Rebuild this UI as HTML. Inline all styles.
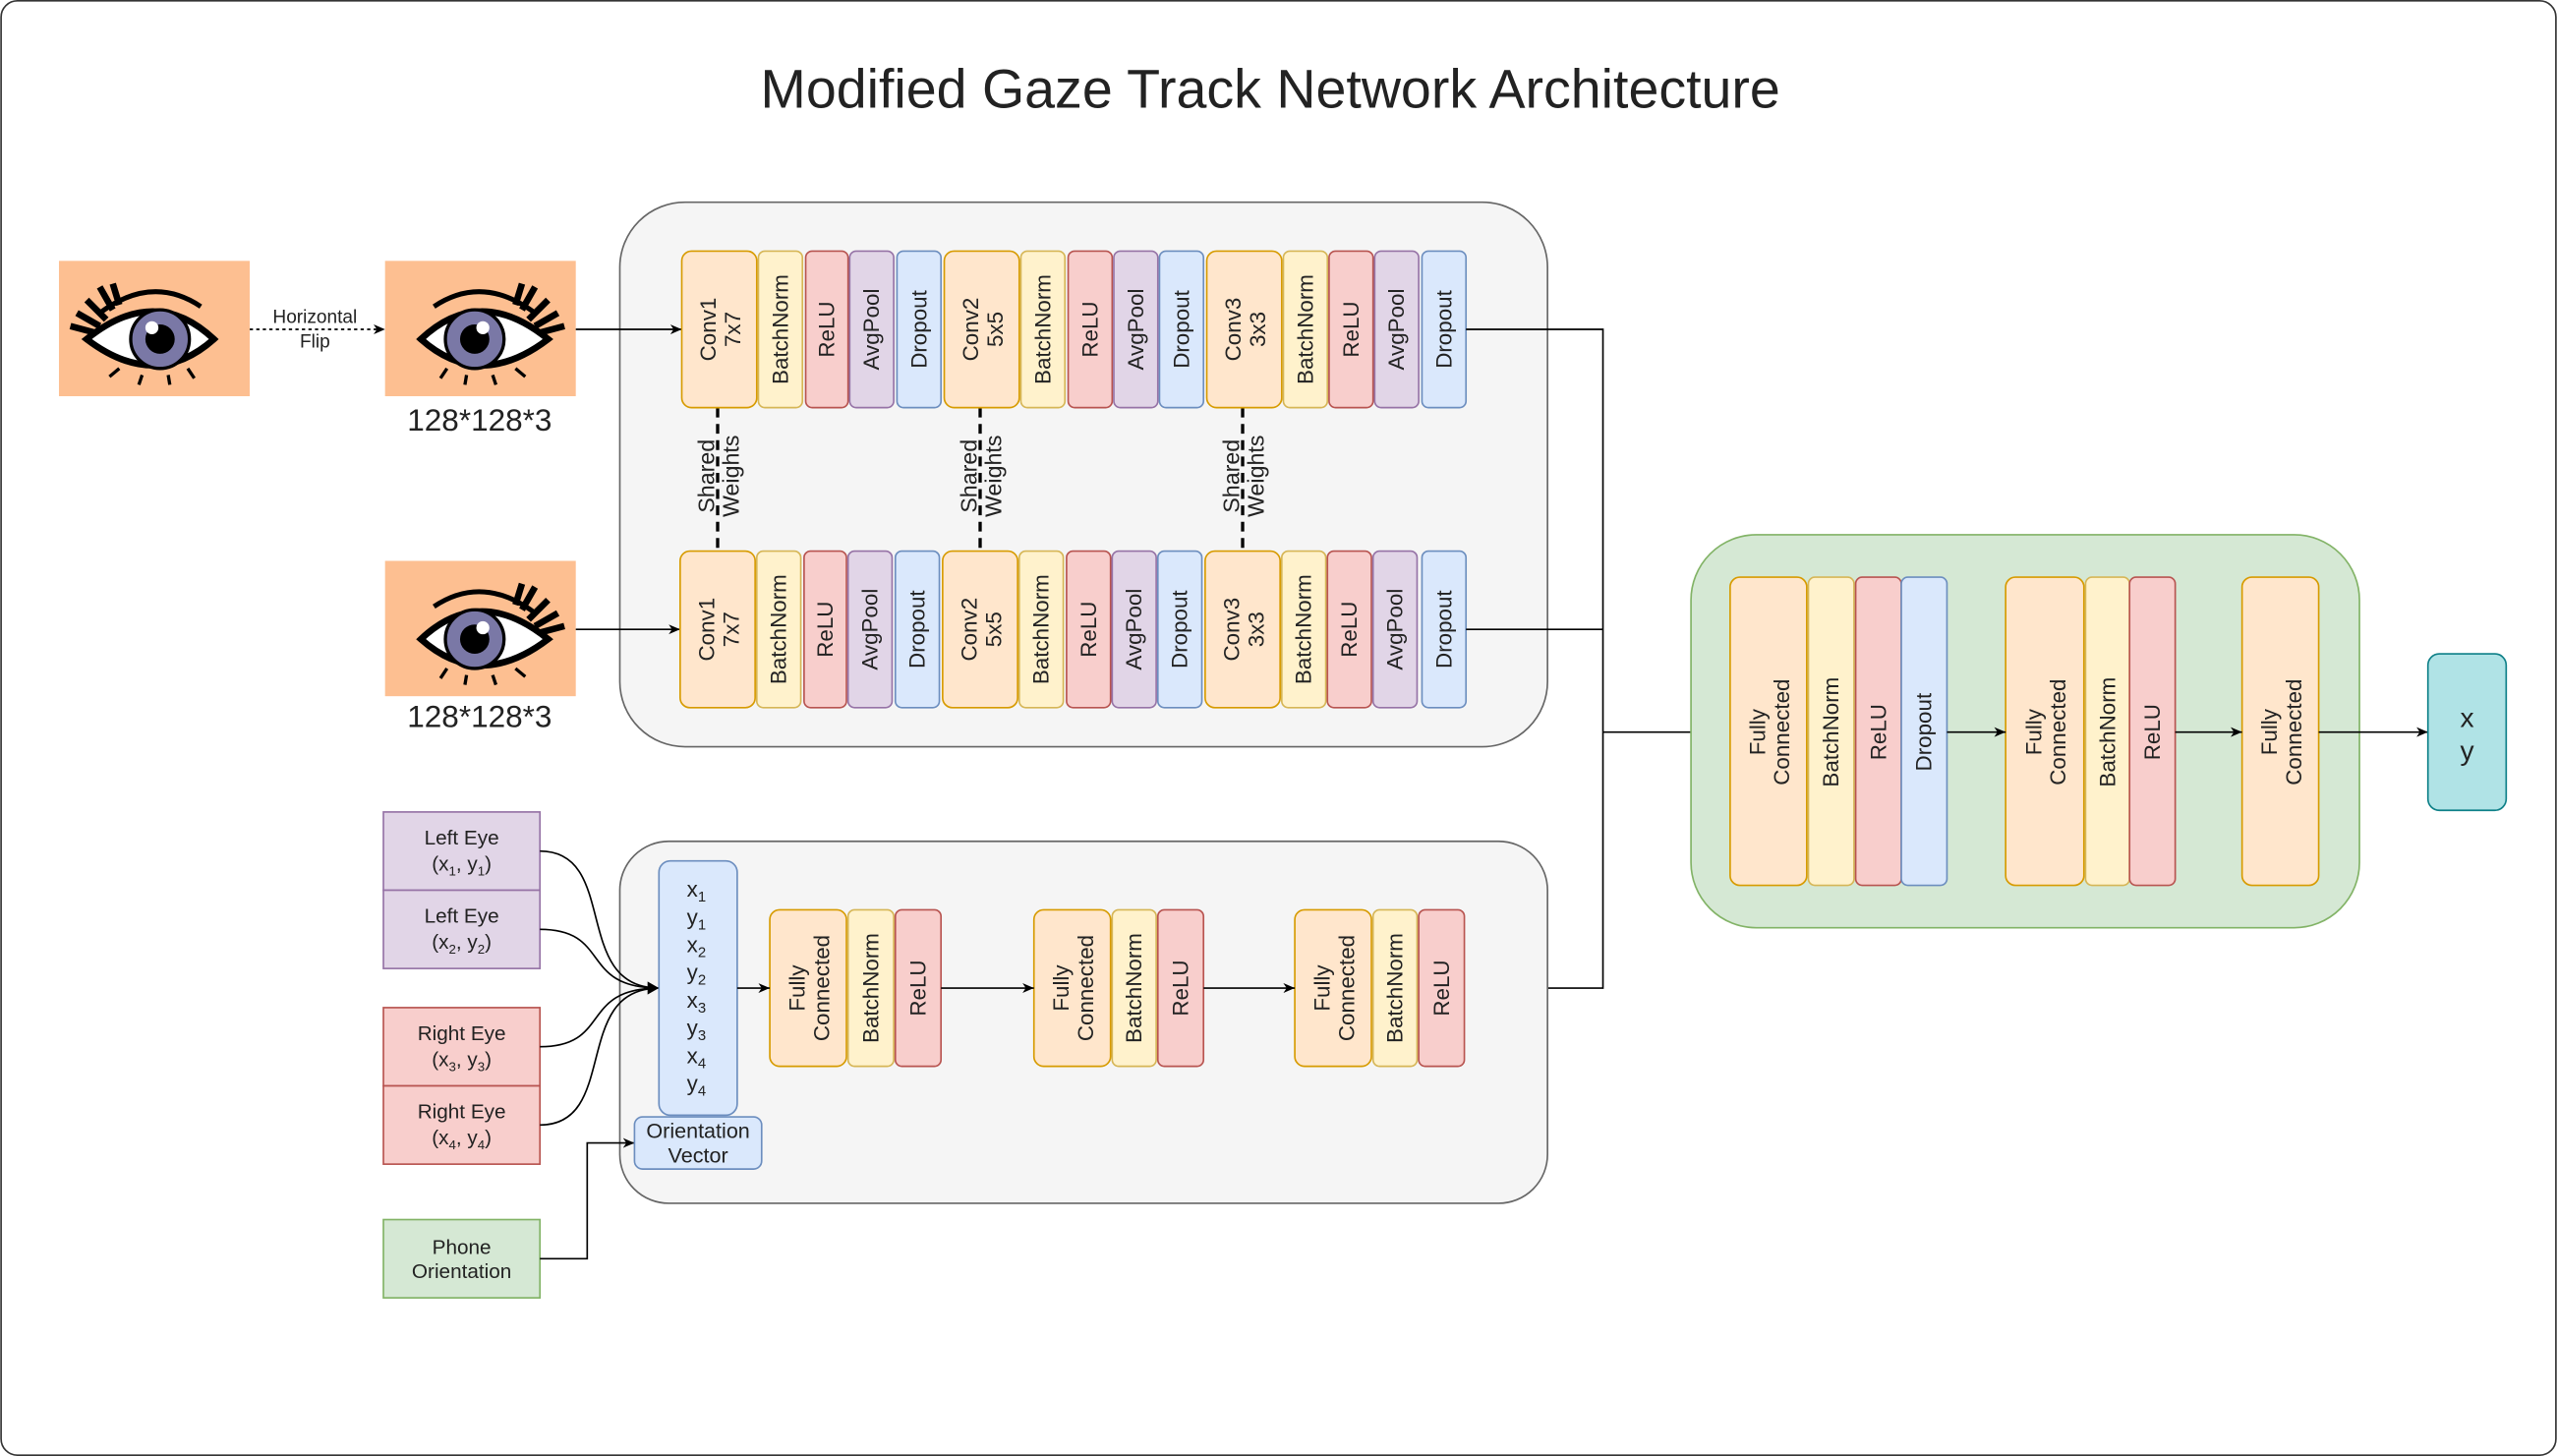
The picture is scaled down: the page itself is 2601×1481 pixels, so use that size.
<!DOCTYPE html>
<html><head><meta charset="utf-8"><style>
html,body{margin:0;padding:0;background:#fff;}
svg{display:block;}
text{font-family:"Liberation Sans",sans-serif;fill:#222;}
.o{fill:#ffe6cc;stroke:#d79b00;}
.b{fill:#fff2cc;stroke:#d6b656;}
.r{fill:#f8cecc;stroke:#b85450;}
.p{fill:#e1d5e7;stroke:#9673a6;}
.d{fill:#dae8fc;stroke:#6c8ebf;}
.g{fill:#d5e8d4;stroke:#82b366;}
.bt{font-size:13.5px;}
.ln{stroke:#000;fill:none;stroke-width:1;}
</style></head><body>
<svg width="2601" height="1481" viewBox="0 0 1568 893" xmlns="http://www.w3.org/2000/svg">
<defs>
<marker id="ar" markerWidth="8" markerHeight="8" refX="7" refY="4" orient="auto" markerUnits="userSpaceOnUse"><path d="M0,1 L7,4 L0,7 L2,4 z" fill="#000"/></marker>
<g id="eye">
<rect x="0" y="0" width="117" height="83" fill="#fdbf91"/>
<path d="M22,48 Q58,14 100,48 Q58,80 22,48 z" fill="#fff" stroke="#000" stroke-width="4"/>
<circle cx="55" cy="48" r="18" fill="#7a78a6" stroke="#000" stroke-width="2"/>
<circle cx="55" cy="48" r="9" fill="#000"/>
<circle cx="60" cy="41" r="4" fill="#fff"/>
<path d="M30,28 Q60,8 92,32" stroke="#000" stroke-width="3" fill="none"/>
<path d="M88,36 L100,24 M92,40 L106,32 M95,44 L110,40 M84,30 L92,16 M80,27 L84,14" stroke="#000" stroke-width="4"/>
<path d="M38,66 L34,72 M50,70 L49,76 M66,70 L68,76 M80,66 L86,71" stroke="#000" stroke-width="2"/>
</g>
</defs>
<rect x="0.5" y="0.5" width="1567" height="892" rx="10" fill="#fff" stroke="#333"/>
<text x="779" y="66" font-size="33.5" text-anchor="middle" fill="#000">Modified Gaze Track Network Architecture</text>

<use href="#eye" transform="translate(153,160) scale(-1,1)"/>
<use href="#eye" x="236" y="160"/>
<use href="#eye" x="236" y="344"/>
<text x="294" y="264" font-size="19" text-anchor="middle">128*128*3</text>
<text x="294" y="446" font-size="19" text-anchor="middle">128*128*3</text>
<line x1="153" y1="202" x2="236" y2="202" class="ln" stroke-dasharray="2,2" marker-end="url(#ar)"/>
<text x="193" y="198" font-size="11.5" text-anchor="middle">Horizontal</text>
<text x="193" y="213" font-size="11.5" text-anchor="middle">Flip</text>

<rect x="380" y="124" width="569" height="334" rx="40" fill="#f5f5f5" stroke="#666"/>
<line x1="353" y1="202" x2="418" y2="202" class="ln" marker-end="url(#ar)"/>
<line x1="353" y1="386" x2="417" y2="386" class="ln" marker-end="url(#ar)"/>

<g stroke="#000" stroke-width="2" stroke-dasharray="6,4">
<line x1="440" y1="250" x2="440" y2="338"/>
<line x1="601" y1="250" x2="601" y2="338"/>
<line x1="762" y1="250" x2="762" y2="338"/>
</g>
<g font-size="14" text-anchor="middle">
<text transform="translate(441,292) rotate(-90)"><tspan x="0" dy="-3">Shared</tspan><tspan x="0" dy="15">Weights</tspan></text>
<text transform="translate(602,292) rotate(-90)"><tspan x="0" dy="-3">Shared</tspan><tspan x="0" dy="15">Weights</tspan></text>
<text transform="translate(763,292) rotate(-90)"><tspan x="0" dy="-3">Shared</tspan><tspan x="0" dy="15">Weights</tspan></text>
</g>

<g>
<rect class="o" x="418" y="154" width="46" height="96" rx="6"/>
<rect class="b" x="465" y="154" width="27" height="96" rx="4"/>
<rect class="r" x="494" y="154" width="26" height="96" rx="4"/>
<rect class="p" x="521" y="154" width="27" height="96" rx="4"/>
<rect class="d" x="550" y="154" width="27" height="96" rx="4"/>
<rect class="o" x="579" y="154" width="46" height="96" rx="6"/>
<rect class="b" x="626" y="154" width="27" height="96" rx="4"/>
<rect class="r" x="655" y="154" width="27" height="96" rx="4"/>
<rect class="p" x="683" y="154" width="27" height="96" rx="4"/>
<rect class="d" x="711" y="154" width="27" height="96" rx="4"/>
<rect class="o" x="740" y="154" width="46" height="96" rx="6"/>
<rect class="b" x="787" y="154" width="27" height="96" rx="4"/>
<rect class="r" x="815" y="154" width="27" height="96" rx="4"/>
<rect class="p" x="843" y="154" width="27" height="96" rx="4"/>
<rect class="d" x="872" y="154" width="27" height="96" rx="4"/>
</g>
<g class="bt" text-anchor="middle" dominant-baseline="central">
<text transform="translate(441,202) rotate(-90)"><tspan x="0" dy="-7">Conv1</tspan><tspan x="0" dy="15">7x7</tspan></text>
<text transform="translate(478.5,202) rotate(-90)">BatchNorm</text>
<text transform="translate(507,202) rotate(-90)">ReLU</text>
<text transform="translate(534.5,202) rotate(-90)">AvgPool</text>
<text transform="translate(563.5,202) rotate(-90)">Dropout</text>
<text transform="translate(602,202) rotate(-90)"><tspan x="0" dy="-7">Conv2</tspan><tspan x="0" dy="15">5x5</tspan></text>
<text transform="translate(639.5,202) rotate(-90)">BatchNorm</text>
<text transform="translate(668.5,202) rotate(-90)">ReLU</text>
<text transform="translate(696.5,202) rotate(-90)">AvgPool</text>
<text transform="translate(724.5,202) rotate(-90)">Dropout</text>
<text transform="translate(763,202) rotate(-90)"><tspan x="0" dy="-7">Conv3</tspan><tspan x="0" dy="15">3x3</tspan></text>
<text transform="translate(800.5,202) rotate(-90)">BatchNorm</text>
<text transform="translate(828.5,202) rotate(-90)">ReLU</text>
<text transform="translate(856.5,202) rotate(-90)">AvgPool</text>
<text transform="translate(885.5,202) rotate(-90)">Dropout</text>
</g>

<g>
<rect class="o" x="417" y="338" width="46" height="96" rx="6"/>
<rect class="b" x="464" y="338" width="27" height="96" rx="4"/>
<rect class="r" x="493" y="338" width="26" height="96" rx="4"/>
<rect class="p" x="520" y="338" width="27" height="96" rx="4"/>
<rect class="d" x="549" y="338" width="27" height="96" rx="4"/>
<rect class="o" x="578" y="338" width="46" height="96" rx="6"/>
<rect class="b" x="625" y="338" width="27" height="96" rx="4"/>
<rect class="r" x="654" y="338" width="27" height="96" rx="4"/>
<rect class="p" x="682" y="338" width="27" height="96" rx="4"/>
<rect class="d" x="710" y="338" width="27" height="96" rx="4"/>
<rect class="o" x="739" y="338" width="46" height="96" rx="6"/>
<rect class="b" x="786" y="338" width="27" height="96" rx="4"/>
<rect class="r" x="814" y="338" width="27" height="96" rx="4"/>
<rect class="p" x="842" y="338" width="27" height="96" rx="4"/>
<rect class="d" x="872" y="338" width="27" height="96" rx="4"/>
</g>
<g class="bt" text-anchor="middle" dominant-baseline="central">
<text transform="translate(440,386) rotate(-90)"><tspan x="0" dy="-7">Conv1</tspan><tspan x="0" dy="15">7x7</tspan></text>
<text transform="translate(477.5,386) rotate(-90)">BatchNorm</text>
<text transform="translate(506,386) rotate(-90)">ReLU</text>
<text transform="translate(533.5,386) rotate(-90)">AvgPool</text>
<text transform="translate(562.5,386) rotate(-90)">Dropout</text>
<text transform="translate(601,386) rotate(-90)"><tspan x="0" dy="-7">Conv2</tspan><tspan x="0" dy="15">5x5</tspan></text>
<text transform="translate(638.5,386) rotate(-90)">BatchNorm</text>
<text transform="translate(667.5,386) rotate(-90)">ReLU</text>
<text transform="translate(695.5,386) rotate(-90)">AvgPool</text>
<text transform="translate(723.5,386) rotate(-90)">Dropout</text>
<text transform="translate(762,386) rotate(-90)"><tspan x="0" dy="-7">Conv3</tspan><tspan x="0" dy="15">3x3</tspan></text>
<text transform="translate(799.5,386) rotate(-90)">BatchNorm</text>
<text transform="translate(827.5,386) rotate(-90)">ReLU</text>
<text transform="translate(855.5,386) rotate(-90)">AvgPool</text>
<text transform="translate(885.5,386) rotate(-90)">Dropout</text>
</g>

<polyline class="ln" points="899,202 983,202 983,449"/>
<polyline class="ln" points="899,386 983,386"/>
<polyline class="ln" points="949,606 983,606 983,449"/>
<line x1="983" y1="449" x2="1061" y2="449" class="ln" marker-end="url(#ar)"/>

<rect x="380" y="516" width="569" height="222" rx="30" fill="#f5f5f5" stroke="#666"/>

<rect class="p" x="235" y="498" width="96" height="48"/>
<rect class="p" x="235" y="546" width="96" height="48"/>
<rect class="r" x="235" y="618" width="96" height="48"/>
<rect class="r" x="235" y="666" width="96" height="48"/>
<rect class="g" x="235" y="748" width="96" height="48"/>
<g font-size="12.5" text-anchor="middle">
<text x="283" y="518">Left Eye</text>
<text x="283" y="534">(x<tspan font-size="8" dy="3">1</tspan><tspan dy="-3">, y</tspan><tspan font-size="8" dy="3">1</tspan><tspan dy="-3">)</tspan></text>
<text x="283" y="566">Left Eye</text>
<text x="283" y="582">(x<tspan font-size="8" dy="3">2</tspan><tspan dy="-3">, y</tspan><tspan font-size="8" dy="3">2</tspan><tspan dy="-3">)</tspan></text>
<text x="283" y="638">Right Eye</text>
<text x="283" y="654">(x<tspan font-size="8" dy="3">3</tspan><tspan dy="-3">, y</tspan><tspan font-size="8" dy="3">3</tspan><tspan dy="-3">)</tspan></text>
<text x="283" y="686">Right Eye</text>
<text x="283" y="702">(x<tspan font-size="8" dy="3">4</tspan><tspan dy="-3">, y</tspan><tspan font-size="8" dy="3">4</tspan><tspan dy="-3">)</tspan></text>
<text x="283" y="769">Phone</text>
<text x="283" y="784">Orientation</text>
</g>
<g class="ln">
<path d="M331,522 C380,522 350,606 404,606"/>
<path d="M331,570 C375,570 355,606 404,606"/>
<path d="M331,642 C375,642 355,606 404,606"/>
<path d="M331,690 C380,690 350,606 404,606"/>
<polyline points="331,772 360,772 360,701 389,701" marker-end="url(#ar)"/>
</g>
<path d="M397,602 L404,606 L397,610 z" fill="#000"/>

<rect class="d" x="404" y="528" width="48" height="156" rx="7"/>
<g font-size="13.5" text-anchor="middle">
<text x="427" y="550">x<tspan font-size="9" dy="3">1</tspan></text>
<text x="427" y="567">y<tspan font-size="9" dy="3">1</tspan></text>
<text x="427" y="584">x<tspan font-size="9" dy="3">2</tspan></text>
<text x="427" y="601">y<tspan font-size="9" dy="3">2</tspan></text>
<text x="427" y="618">x<tspan font-size="9" dy="3">3</tspan></text>
<text x="427" y="635">y<tspan font-size="9" dy="3">3</tspan></text>
<text x="427" y="652">x<tspan font-size="9" dy="3">4</tspan></text>
<text x="427" y="669">y<tspan font-size="9" dy="3">4</tspan></text>
</g>
<rect class="d" x="389" y="685" width="78" height="32" rx="5"/>
<text x="428" y="698" font-size="13" text-anchor="middle">Orientation</text>
<text x="428" y="713" font-size="13" text-anchor="middle">Vector</text>

<g>
<rect class="o" x="472" y="558" width="47" height="96" rx="6"/>
<rect class="b" x="520" y="558" width="28" height="96" rx="4"/>
<rect class="r" x="549" y="558" width="28" height="96" rx="4"/>
<rect class="o" x="634" y="558" width="47" height="96" rx="6"/>
<rect class="b" x="682" y="558" width="27" height="96" rx="4"/>
<rect class="r" x="710" y="558" width="28" height="96" rx="4"/>
<rect class="o" x="794" y="558" width="47" height="96" rx="6"/>
<rect class="b" x="842" y="558" width="27" height="96" rx="4"/>
<rect class="r" x="870" y="558" width="28" height="96" rx="4"/>
</g>
<g class="bt" text-anchor="middle" dominant-baseline="central">
<text transform="translate(495.5,606) rotate(-90)"><tspan x="0" dy="-7">Fully</tspan><tspan x="0" dy="15">Connected</tspan></text>
<text transform="translate(534,606) rotate(-90)">BatchNorm</text>
<text transform="translate(563,606) rotate(-90)">ReLU</text>
<text transform="translate(657.5,606) rotate(-90)"><tspan x="0" dy="-7">Fully</tspan><tspan x="0" dy="15">Connected</tspan></text>
<text transform="translate(695.5,606) rotate(-90)">BatchNorm</text>
<text transform="translate(724,606) rotate(-90)">ReLU</text>
<text transform="translate(817.5,606) rotate(-90)"><tspan x="0" dy="-7">Fully</tspan><tspan x="0" dy="15">Connected</tspan></text>
<text transform="translate(855.5,606) rotate(-90)">BatchNorm</text>
<text transform="translate(884,606) rotate(-90)">ReLU</text>
</g>
<line x1="452" y1="606" x2="472" y2="606" class="ln" marker-end="url(#ar)"/>
<line x1="577" y1="606" x2="634" y2="606" class="ln" marker-end="url(#ar)"/>
<line x1="738" y1="606" x2="794" y2="606" class="ln" marker-end="url(#ar)"/>

<rect x="1037" y="328" width="410" height="241" rx="40" fill="#d5e8d4" stroke="#82b366"/>
<g>
<rect class="o" x="1061" y="354" width="47" height="189" rx="6"/>
<rect class="b" x="1109" y="354" width="28" height="189" rx="4"/>
<rect class="r" x="1138" y="354" width="28" height="189" rx="4"/>
<rect class="d" x="1166" y="354" width="28" height="189" rx="4"/>
<rect class="o" x="1230" y="354" width="48" height="189" rx="6"/>
<rect class="b" x="1279" y="354" width="27" height="189" rx="4"/>
<rect class="r" x="1306" y="354" width="28" height="189" rx="4"/>
<rect class="o" x="1375" y="354" width="47" height="189" rx="6"/>
</g>
<g class="bt" text-anchor="middle" dominant-baseline="central">
<text transform="translate(1084.5,449) rotate(-90)"><tspan x="0" dy="-7">Fully</tspan><tspan x="0" dy="15">Connected</tspan></text>
<text transform="translate(1123,449) rotate(-90)">BatchNorm</text>
<text transform="translate(1152,449) rotate(-90)">ReLU</text>
<text transform="translate(1180,449) rotate(-90)">Dropout</text>
<text transform="translate(1254,449) rotate(-90)"><tspan x="0" dy="-7">Fully</tspan><tspan x="0" dy="15">Connected</tspan></text>
<text transform="translate(1292.5,449) rotate(-90)">BatchNorm</text>
<text transform="translate(1320,449) rotate(-90)">ReLU</text>
<text transform="translate(1398.5,449) rotate(-90)"><tspan x="0" dy="-7">Fully</tspan><tspan x="0" dy="15">Connected</tspan></text>
</g>
<line x1="1194" y1="449" x2="1230" y2="449" class="ln" marker-end="url(#ar)"/>
<line x1="1334" y1="449" x2="1375" y2="449" class="ln" marker-end="url(#ar)"/>
<line x1="1422" y1="449" x2="1489" y2="449" class="ln" marker-end="url(#ar)"/>

<rect x="1489" y="401" width="48" height="96" rx="7" fill="#b0e3e6" stroke="#0e8088"/>
<text x="1513" y="446" font-size="17" text-anchor="middle">x</text>
<text x="1513" y="466" font-size="17" text-anchor="middle">y</text>
</svg>
</body></html>
